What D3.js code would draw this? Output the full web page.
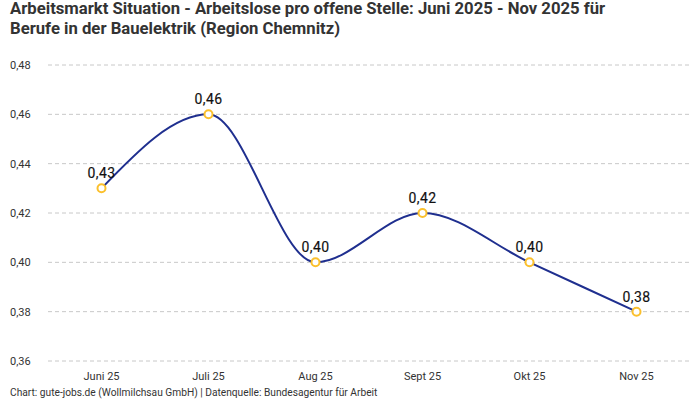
<!DOCTYPE html>
<html>
<head>
<meta charset="utf-8">
<script src="https://cdn.jsdelivr.net/npm/d3@7"></script>
<style>
  body { margin: 0; background: #fff; }
  svg { display: block; font-family: Roboto, "Noto Sans", sans-serif; }
</style>
</head>
<body>
<svg id="chart"></svg>
<script>
const width = 700;
const height = 400;

const months = ["Juni 25", "Juli 25", "Aug 25", "Sept 25", "Okt 25", "Nov 25"];
const values = [0.43, 0.46, 0.40, 0.42, 0.40, 0.38];
const yTicks = [0.36, 0.38, 0.40, 0.42, 0.44, 0.46, 0.48];

const titleLines = [
    "Arbeitsmarkt Situation - Arbeitslose pro offene Stelle: Juni 2025 - Nov 2025 für",
    "Berufe in der Bauelektrik (Region Chemnitz)"
];
const footer = "Chart: gute-jobs.de (Wollmilchsau GmbH) | Datenquelle: Bundesagentur für Arbeit";

const fmt = v => v.toFixed(2).replace(".", ",");

const svg = d3.select("#chart")
    .attr("width", width)
    .attr("height", height);

const xScale = d3.scaleBand()
    .domain(months)
    .range([48, 690]);

const yScale = d3.scaleLinear()
    .domain([0.36, 0.48])
    .range([361, 65]);

const cx = m => xScale(m) + xScale.bandwidth() / 2;

// title
svg.append("g")
   .selectAll("text")
   .data(titleLines)
   .enter()
   .append("text")
   .attr("x", 10)
   .attr("y", (d, i) => 14 + i * 20)
   .attr("font-size", 16.7)
   .attr("font-weight", "bold")
   .attr("fill", "#333")
   .text(d => d);

// grid
svg.append("g")
   .selectAll("line")
   .data(yTicks)
   .enter()
   .append("line")
   .attr("x1", 48)
   .attr("x2", 690)
   .attr("y1", d => yScale(d))
   .attr("y2", d => yScale(d))
   .attr("stroke", "#c8c8c8")
   .attr("stroke-dasharray", "4,3");

// y labels
svg.append("g")
   .selectAll("text")
   .data(yTicks)
   .enter()
   .append("text")
   .attr("x", 10)
   .attr("y", d => yScale(d) + 4)
   .attr("font-size", 11)
   .attr("fill", "#333")
   .text(d => fmt(d));

// x axis labels
let xAxis = d3.axisBottom(xScale).tickSize(0).tickPadding(0);
let gx = svg.append("g")
   .attr("transform", "translate(0, 372)")
   .call(xAxis);
gx.select(".domain").remove();
gx.selectAll("text")
  .attr("font-size", 11)
  .attr("font-family", "Roboto, 'Noto Sans', sans-serif")
  .attr("fill", "#333");

// line
const line = d3.line()
    .x((d, i) => cx(months[i]))
    .y(d => yScale(d))
    .curve(d3.curveMonotoneX);

svg.append("path")
   .datum(values)
   .attr("d", line)
   .attr("fill", "none")
   .attr("stroke", "#1f2f8f")
   .attr("stroke-width", 2);

// markers
svg.append("g")
   .selectAll("circle")
   .data(values)
   .enter()
   .append("circle")
   .attr("cx", (d, i) => cx(months[i]))
   .attr("cy", d => yScale(d))
   .attr("r", 4)
   .attr("fill", "#fff")
   .attr("stroke", "#fbc02d")
   .attr("stroke-width", 2);

// data labels
svg.append("g")
   .selectAll("text")
   .data(values)
   .enter()
   .append("text")
   .attr("x", (d, i) => cx(months[i]))
   .attr("y", d => yScale(d) - 10)
   .attr("text-anchor", "middle")
   .attr("font-size", 14)
   .attr("letter-spacing", 0.4)
   .attr("fill", "#111")
   .attr("stroke", "#111")
   .attr("stroke-width", 0.15)
   .text(d => fmt(d));

// footer
svg.append("text")
   .attr("x", 10)
   .attr("y", 396)
   .attr("font-size", 10.2)
   .attr("fill", "#333")
   .text(footer);
</script>
</body>
</html>
